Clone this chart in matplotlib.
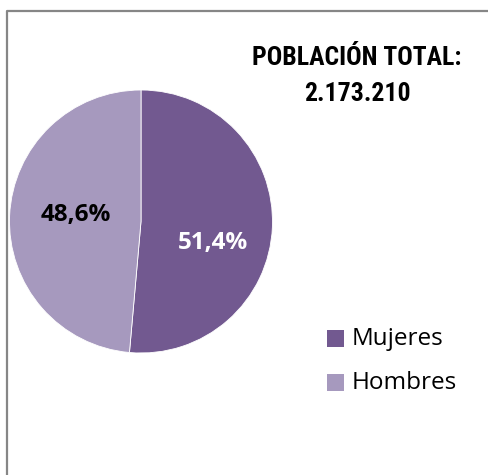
import matplotlib
matplotlib.use("Agg")
import matplotlib.pyplot as plt
from matplotlib.lines import Line2D
from matplotlib.patches import Rectangle

categories = ["Mujeres", "Hombres"]
values = [51.4, 48.6]
labels = ["51,4%", "48,6%"]
colors = ["#725990", "#A699BE"]
title_lines = ["POBLACIÓN TOTAL:", "2.173.210"]

W, H = 489, 475
fig = plt.figure(figsize=(W / 100, H / 100), dpi=100)

def fx(px):
    return px / W

def fy(py):
    return 1 - py / H

# border (top and left visible)
fig.add_artist(Line2D([fx(7), fx(7), fx(489)], [fy(475), fy(10.5), fy(10.5)],
                      color="#868686", lw=1.6, transform=fig.transFigure))

cx, cy, r = 141, 221.5, 131.5
ax = fig.add_axes([fx(cx - r), fy(cy + r), 2 * r / W, 2 * r / H])
wedges, _ = ax.pie(values, colors=colors, startangle=90, counterclock=False,
                   radius=1, wedgeprops=dict(edgecolor="white", linewidth=0.6))
ax.set_xlim(-1, 1)
ax.set_ylim(-1, 1)
ax.set_aspect("equal")
ax.axis("off")

lab_font = ["Open Sans", "DejaVu Sans"]
fig.text(fx(213), fy(243), labels[0], color="white", fontsize=17.5, fontweight="bold",
         family=lab_font, ha="center", va="center")
fig.text(fx(76), fy(215), labels[1], color="black", fontsize=17.5, fontweight="bold",
         family=lab_font, ha="center", va="center")

title_font = ["Roboto Condensed", "Liberation Sans Narrow", "Roboto", "DejaVu Sans"]
fig.text(fx(357), fy(58), title_lines[0], fontsize=18.5, fontweight="bold",
         family=title_font, fontstretch="condensed", ha="center", va="center")
fig.text(fx(357), fy(94), title_lines[1], fontsize=18.5, fontweight="bold",
         family=title_font, fontstretch="condensed", ha="center", va="center")

# legend
for i, (cat, col) in enumerate(zip(categories, colors)):
    ycen = 338 + i * 44
    fig.add_artist(Rectangle((fx(327), fy(ycen + 8.5)), 17 / W, 17 / H,
                             facecolor=col, edgecolor="none", transform=fig.transFigure))
    fig.text(fx(352), fy(ycen + 1), cat, fontsize=17.5, family=lab_font,
             ha="left", va="center")

fig.savefig("out.png", dpi=100, facecolor="white")
